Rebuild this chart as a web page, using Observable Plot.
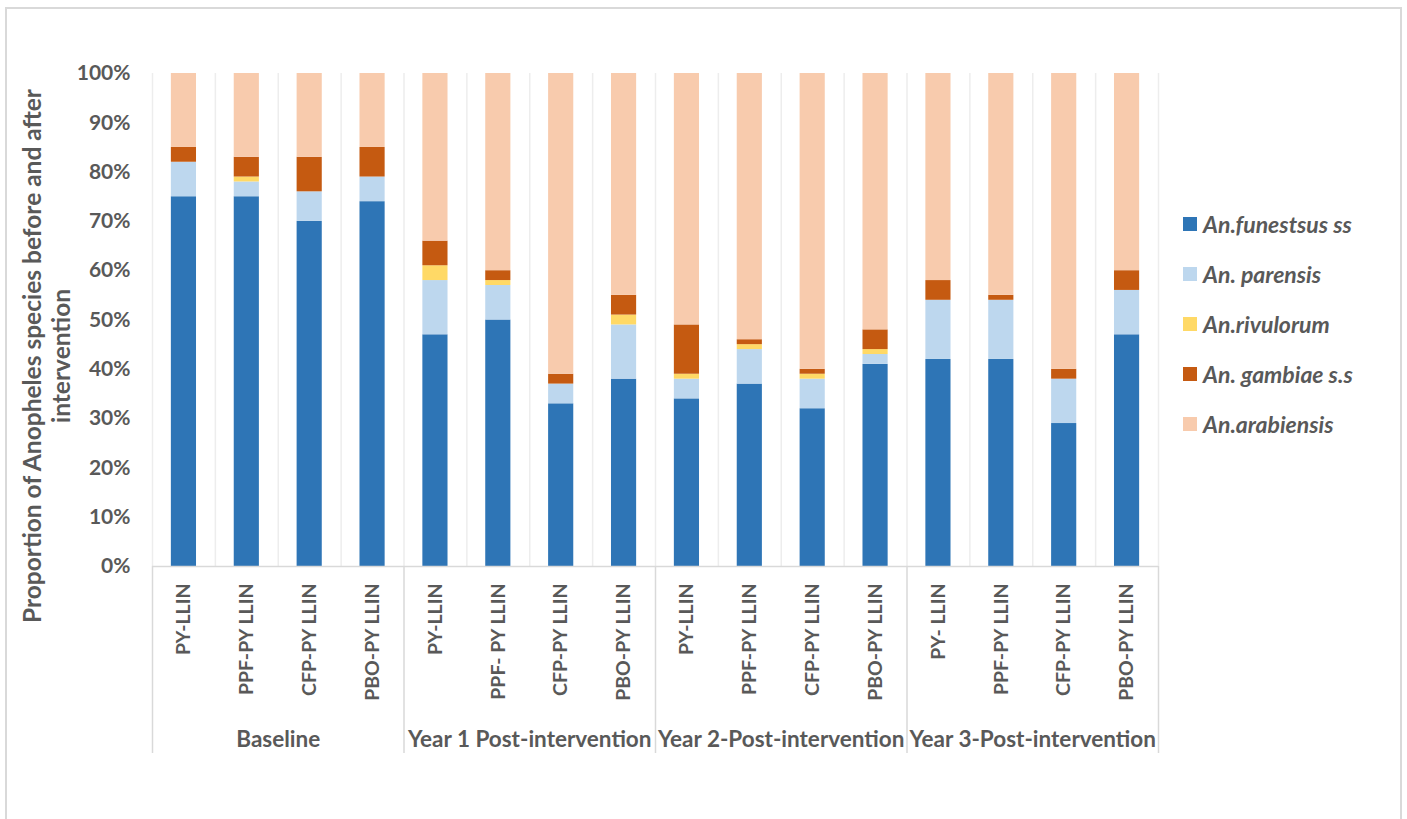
<!DOCTYPE html>
<html>
<head>
<meta charset="utf-8">
<script src="https://cdn.jsdelivr.net/npm/d3@7"></script>
<script src="https://cdn.jsdelivr.net/npm/@observablehq/plot@0.6"></script>
<style>
  html, body { margin: 0; padding: 0; background: #fff; overflow: hidden; }
  #wrap { position: relative; width: 1407px; height: 819px; overflow: hidden; font-family: Lato, "Open Sans", sans-serif; }
  #frame { position: absolute; left: 5px; top: 7px; width: 1397px; height: 830px; border: 2px solid #d9d9d9; box-sizing: border-box; }
  #chart { position: absolute; left: 0; top: 0; }
  #legend { position: absolute; left: 1183px; top: 199px; }
  .item { display: flex; align-items: center; height: 50px; }
  .sw { width: 14px; height: 14px; margin-right: 6px; }
  .lab { font-size: 23px; font-weight: bold; font-style: italic; color: #595959; white-space: nowrap; }
</style>
</head>
<body>
<div id="wrap">
  <div id="frame"></div>
  <div id="chart"></div>
  <div id="legend"></div>
</div>
<script>
const groups = ["Baseline", "Year 1 Post-intervention", "Year 2-Post-intervention", "Year 3-Post-intervention"];
const nets = ["PY-LLIN", "PPF-PY LLIN", "CFP-PY LLIN", "PBO-PY LLIN",
              "PY-LLIN", "PPF- PY LLIN", "CFP-PY LLIN", "PBO-PY LLIN",
              "PY-LLIN", "PPF-PY LLIN", "CFP-PY LLIN", "PBO-PY LLIN",
              "PY- LLIN", "PPF-PY LLIN", "CFP-PY LLIN", "PBO-PY LLIN"];
const species = ["An.funestsus ss", "An. parensis", "An.rivulorum", "An. gambiae s.s", "An.arabiensis"];
const colors = ["#2E75B6", "#BDD7EE", "#FFD966", "#C55A11", "#F8CBAD"];
const funestus   = [75, 75, 70, 74, 47, 50, 33, 38, 34, 37, 32, 41, 42, 42, 29, 47];
const parensis   = [ 7,  3,  6,  5, 11,  7,  4, 11,  4,  7,  6,  2, 12, 12,  9,  9];
const rivulorum  = [ 0,  1,  0,  0,  3,  1,  0,  2,  1,  1,  1,  1,  0,  0,  0,  0];
const gambiae    = [ 3,  4,  7,  6,  5,  2,  2,  4, 10,  1,  1,  4,  4,  1,  2,  4];
const arabiensis = [15, 17, 17, 15, 34, 40, 61, 45, 51, 54, 60, 52, 42, 45, 60, 40];
const yTicks = [0, 10, 20, 30, 40, 50, 60, 70, 80, 90, 100];

const seriesValues = [funestus, parensis, rivulorum, gambiae, arabiensis];
const keys = nets.map((_, i) => String(i));
const rows = [];
keys.forEach((k, i) => {
  species.forEach((s, j) => rows.push({key: k, species: s, value: seriesValues[j][i]}));
});

const marginLeft = 152, marginRight = 249, marginTop = 73, marginBottom = 253;
const W = 1407, H = 819;
const step = (W - marginLeft - marginRight) / 16;
const half = step / 2;
const pxPerUnit = (H - marginTop - marginBottom) / 100;

const boundaries = keys.map(k => ({key: k, dx: -half})).concat([{key: keys[15], dx: half}]);
const groupBounds = [0, 4, 8, 12].map(i => ({key: keys[i], dx: -half})).concat([{key: keys[15], dx: half}]);
const groupRows = groups.map((g, i) => ({key: keys[i * 4 + 1], label: g}));

const chart = Plot.plot({
  width: W,
  height: H,
  marginLeft, marginRight, marginTop, marginBottom,
  style: {fontFamily: "Lato, 'Open Sans', sans-serif", color: "#595959", background: "transparent"},
  x: {domain: keys, paddingInner: 0.6, paddingOuter: 0.3, round: false, label: null},
  y: {domain: [0, 100], label: null},
  color: {domain: species, range: colors},
  marks: [
    ...boundaries.map(b => Plot.ruleX([b.key], {dx: b.dx, stroke: "#ededed", strokeWidth: 1.5})),
    ...groupBounds.map(b => Plot.ruleX([b.key], {dx: b.dx, y1: 0, y2: -187 / pxPerUnit, stroke: "#d9d9d9", strokeWidth: 1.5})),
    Plot.barY(rows, Plot.stackY({x: "key", y: "value", fill: "species", order: species})),
    Plot.ruleY([0], {stroke: "#d9d9d9", strokeWidth: 1.5}),
    Plot.axisY({ticks: yTicks, tickFormat: d => d + "%", tickSize: 0, tickPadding: 22,
                fontSize: 21, fontWeight: "bold", fill: "#595959", label: null}),
    Plot.axisX({tickFormat: k => nets[+k], tickRotate: -90, tickSize: 0, tickPadding: 17,
                fontSize: 19.5, fontWeight: "bold", fill: "#595959", label: null}),
    Plot.text(groupRows, {x: "key", text: "label", frameAnchor: "bottom", dx: half, dy: 180,
                          fontSize: 22.5, fontWeight: "bold", fill: "#595959"}),
    Plot.text(["Proportion of Anopheles species before and after\nintervention"],
              {frameAnchor: "left", textAnchor: "middle", rotate: -90, dx: -106, dy: 36, lineHeight: 1.15,
               fontSize: 24.5, fontWeight: "bold", fill: "#595959"})
  ]
});
document.getElementById("chart").appendChild(chart);

const legend = document.getElementById("legend");
species.forEach((s, i) => {
  const item = document.createElement("div");
  item.className = "item";
  const sw = document.createElement("div");
  sw.className = "sw";
  sw.style.background = colors[i];
  const lab = document.createElement("span");
  lab.className = "lab";
  lab.textContent = s;
  item.appendChild(sw);
  item.appendChild(lab);
  legend.appendChild(item);
});
</script>
</body>
</html>
